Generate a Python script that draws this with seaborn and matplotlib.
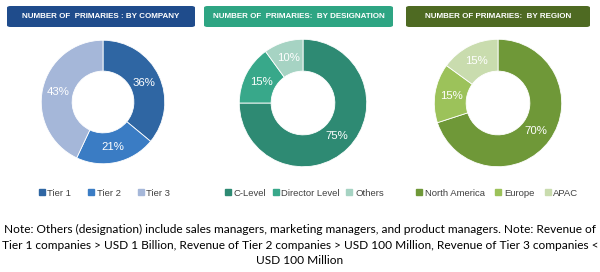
import matplotlib
matplotlib.use("Agg")
import matplotlib.pyplot as plt
import seaborn as sns
from matplotlib.patches import FancyBboxPatch
from matplotlib.lines import Line2D

sns.set_theme(style="white")
plt.rcParams['font.family'] = ['Liberation Sans', 'DejaVu Sans']

# Data
titles = ["NUMBER OF  PRIMARIES : BY COMPANY",
          "NUMBER OF  PRIMARIES:  BY DESIGNATION",
          "NUMBER OF PRIMARIES:  BY REGION"]
company_labels = ["Tier 1", "Tier 2", "Tier 3"]
company_values = [36, 21, 43]
designation_labels = ["C-Level", "Director Level", "Others"]
designation_values = [75, 15, 10]
region_labels = ["North America", "Europe", "APAC"]
region_values = [70, 15, 15]
note = ("Note: Others (designation) include sales managers, marketing managers, and product managers. Note: Revenue of\n"
        "Tier 1 companies > USD 1 Billion, Revenue of Tier 2 companies > USD 100 Million, Revenue of Tier 3 companies <\n"
        "USD 100 Million")

palettes = [["#2F66A3", "#3A7CC4", "#A5B7D9"],
            ["#2E8A73", "#38A88A", "#A6D3C3"],
            ["#6F9838", "#9CC25A", "#C9DCAE"]]
bar_colors = ["#1F4C8C", "#2EA583", "#4E6A22"]

W, H = 600, 272
fig = plt.figure(figsize=(6, 2.72), dpi=100)
fig.patch.set_facecolor("white")

panels = [(company_labels, company_values), (designation_labels, designation_values),
          (region_labels, region_values)]
centers = [(103, 102), (303, 103), (498, 103)]
radii = [63, 65, 65]
bars = [(7, 195), (204, 393), (406, 590)]
title_sizes = [5.8, 5.8, 5.8]
legend_cx = [104, 304, 497]
col_spacing = [1.7, 0.6, 1.0]

for i, ((labels, values), (cx, cy), r) in enumerate(zip(panels, centers, radii)):
    ax = fig.add_axes([(cx - r) / W, (H - cy - r) / H, 2 * r / W, 2 * r / H])
    wedges, texts, autotexts = ax.pie(
        values, colors=palettes[i], startangle=90, counterclock=False,
        radius=1, wedgeprops=dict(width=0.5, edgecolor="white", linewidth=0.6),
        autopct=lambda p: f"{p:.0f}%", pctdistance=0.74,
        textprops=dict(color="white", fontsize=8.2))
    ax.set_xlim(-1.02, 1.02)
    ax.set_ylim(-1.02, 1.02)
    ax.set_aspect("equal")
    ax.axis("off")

    # title bar
    x0, x1 = bars[i]
    box = FancyBboxPatch((x0 / W, (H - 27) / H), (x1 - x0) / W, 21 / H,
                         boxstyle="round,pad=0,rounding_size=0.006",
                         transform=fig.transFigure, facecolor=bar_colors[i],
                         edgecolor="none")
    fig.patches.append(box)
    fig.text((x0 + x1) / 2 / W, (H - 16.5) / H, titles[i], color="white",
             fontsize=title_sizes[i], fontweight="bold", ha="center", va="center")

    handles = [Line2D([0], [0], marker="s", linestyle="none", markersize=3.8,
                      markerfacecolor=c, markeredgecolor=c) for c in palettes[i]]
    fig.legend(handles, labels, loc="center", bbox_to_anchor=(legend_cx[i] / W, (H - 193) / H),
               ncol=3, frameon=False, fontsize=6.8, handletextpad=0.2,
               columnspacing=col_spacing[i], handlelength=0.8, labelcolor="#404040",
               borderpad=0)

fig.text(0.5, (H - 245) / H, note, ha="center", va="center", fontsize=8.6,
         linespacing=1.5, color="black", family=["Lato", "DejaVu Sans"])

fig.savefig("out.png", dpi=100, facecolor="white")
